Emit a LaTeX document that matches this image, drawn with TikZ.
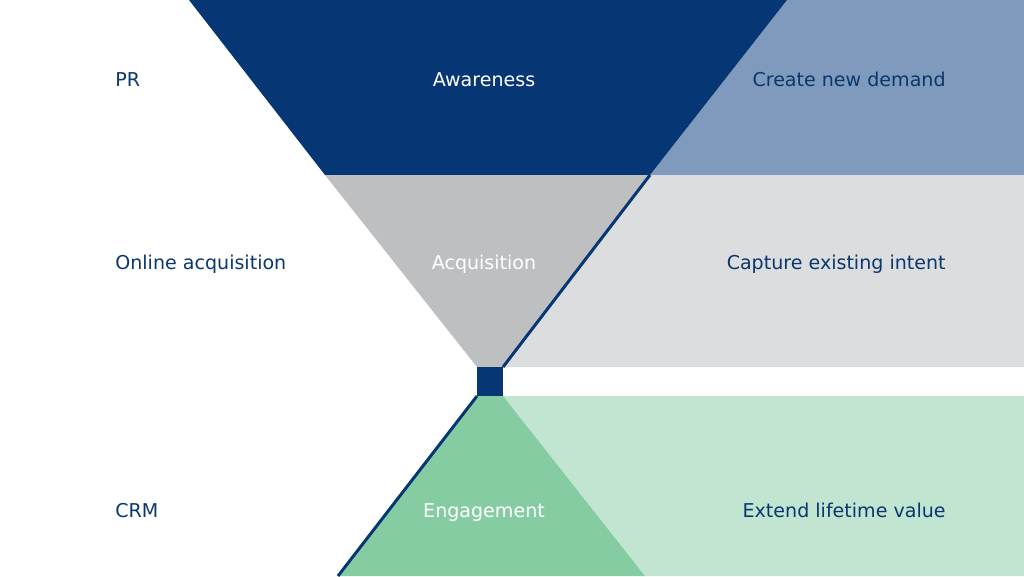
\documentclass[tikz,border=0pt]{standalone}
\usepackage{fontspec}
\setmainfont{DejaVu Sans}
\usepackage{tikz}
\usetikzlibrary{positioning}
\definecolor{navy}{RGB}{6,54,115}
\definecolor{steel}{RGB}{127,154,188}
\definecolor{midgray}{RGB}{190,191,193}
\definecolor{palegray}{RGB}{220,221,223}
\definecolor{mint}{RGB}{134,204,163}
\definecolor{palemint}{RGB}{194,229,209}
\definecolor{labelblue}{RGB}{10,55,110}
\tikzset{
    stagelabel/.style={text=white, inner sep=0pt, anchor=base},
    channellabel/.style={text=labelblue, inner sep=0pt, anchor=base west},
    goallabel/.style={text=labelblue, inner sep=0pt, anchor=base east},
    edgeline/.style={draw=navy, line width=1.7pt},
}

\begin{document}
\begin{tikzpicture}[x=0.02cm, y=-0.02cm, font=\fontsize{10.85}{13}\selectfont]
\useasboundingbox (0,0) rectangle (1024,576);

% Awareness row
\fill[steel] (787,0) -- (1024,0) -- (1024,175) -- (650,175) -- cycle;
\fill[navy] (189,0) -- (787,0) -- (650,175) -- (325,175) -- cycle;

% Acquisition row
\fill[palegray] (650,175) -- (1024,175) -- (1024,367) -- (503,367) -- cycle;
\fill[midgray] (325,175) -- (650,175) -- (503,367) -- (477,367) -- cycle;
\draw[edgeline] (650,175) -- (503,367);

% Neck
\fill[navy] (477,367) rectangle (503,396);

% Engagement row
\fill[palemint] (503,396) -- (1024,396) -- (1024,576) -- (645,576) -- cycle;
\fill[mint] (477,396) -- (503,396) -- (645,576) -- (338,576) -- cycle;
\draw[edgeline] (477,396) -- (338,576);

% Stage names
\node[stagelabel] (awareness) at (484,86) {Awareness};
\node[stagelabel] (acquisition) at (484,269) {Acquisition};
\node[stagelabel] (engagement) at (484,517) {Engagement};

% Channels
\node[channellabel] (pr) at (115,86) {PR};
\node[channellabel] (online) at (115,269) {Online acquisition};
\node[channellabel] (crm) at (115,517) {CRM};

% Goals
\node[goallabel] (demand) at (946,86) {Create new demand};
\node[goallabel] (intent) at (946,269) {Capture existing intent};
\node[goallabel] (value) at (946,517) {Extend lifetime value};

\end{tikzpicture}
\end{document}
